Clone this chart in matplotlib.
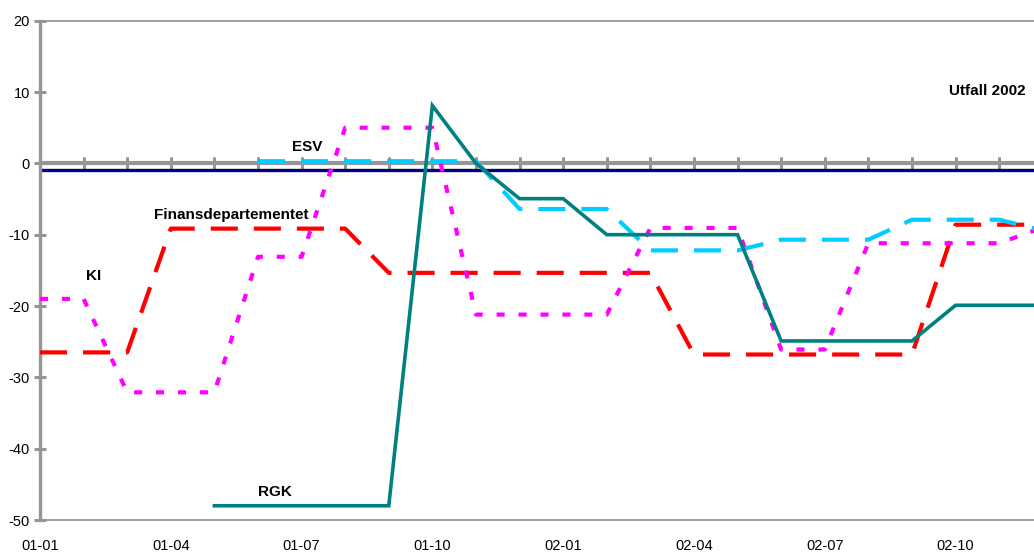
import numpy as np
import matplotlib
matplotlib.use("Agg")
import matplotlib.pyplot as plt

plt.rcParams['font.family'] = ['Liberation Sans', 'DejaVu Sans']
plt.rcParams['lines.scale_dashes'] = False

nan = np.nan
months = ['01-01', '01-02', '01-03', '01-04', '01-05', '01-06', '01-07', '01-08',
          '01-09', '01-10', '01-11', '01-12', '02-01', '02-02', '02-03', '02-04',
          '02-05', '02-06', '02-07', '02-08', '02-09', '02-10', '02-11', '02-12']

finansdep = [-26.5, -26.5, -26.5, -9.15, -9.15, -9.15, -9.15, -9.15,
             -15.35, -15.35, -15.35, -15.35, -15.35, -15.35, -15.35, -26.8,
             -26.8, -26.8, -26.8, -26.8, -26.8, -8.6, -8.6, -8.6]
ki = [-19.0, -19.0, -32.1, -32.1, -32.1, -13.1, -13.1, 5.0,
      5.0, 5.0, -21.2, -21.2, -21.2, -21.2, -9.05, -9.05,
      -9.05, -26.1, -26.1, -11.2, -11.2, -11.2, -11.2, -9.0]
esv = [nan, nan, nan, nan, nan, 0.3, 0.3, 0.3,
       0.3, 0.3, 0.3, -6.4, -6.4, -6.4, -12.2, -12.2,
       -12.2, -10.7, -10.7, -10.7, -7.9, -7.9, -7.9, -9.4]
rgk = [nan, nan, nan, nan, -48.0, -48.0, -48.0, -48.0,
       -48.0, 8.1, 0.0, -4.95, -4.95, -10.0, -10.0, -10.0,
       -10.0, -24.9, -24.9, -24.9, -24.9, -19.9, -19.9, -19.9]
utfall_2002 = -1.0

y_ticks = [-50, -40, -30, -20, -10, 0, 10, 20]
x_tick_labels = ['01-01', '01-04', '01-07', '01-10', '02-01', '02-04', '02-07', '02-10']

GRAY = '#969696'
x = np.arange(len(months))

fig = plt.figure(figsize=(10.34, 5.52), dpi=100)
ax = fig.add_axes([40/1034, 32/552, 994/1034, 499.3/552])

ax.set_xlim(0, 22.8)
ax.set_ylim(-50, 20)

# zero axis line with month tick marks
ax.axhline(0, color=GRAY, lw=3, zorder=1.5)
sec = ax.secondary_xaxis(50/70)
sec.set_xticks(x)
sec.tick_params(axis='x', which='both', direction='inout', length=9, width=2,
                color=GRAY, labelbottom=False, labeltop=False,
                top=True, bottom=True)
for s in sec.spines.values():
    s.set_visible(False)

ax.axhline(utfall_2002, color='#000080', lw=2.4, zorder=2)

ax.plot(x, finansdep, color='#FF0000', lw=3, dashes=(19.5, 11.5), zorder=3)
ax.plot(x, ki, color='#FF00FF', lw=3, dashes=(5.8, 10), zorder=4)
ax.plot(x, esv, color='#00CCFF', lw=3, dashes=(19.5, 11.5), zorder=5)
ax.plot(x, rgk, color='#008080', lw=2.6, zorder=6, solid_joinstyle='miter')

for s in ['top', 'bottom']:
    ax.spines[s].set_color(GRAY)
    ax.spines[s].set_linewidth(1.3)
ax.spines['right'].set_visible(False)
ax.spines['left'].set_color(GRAY)
ax.spines['left'].set_linewidth(2.4)

ax.set_yticks(y_ticks)
ax.set_yticklabels([str(v) for v in y_ticks])
ax.tick_params(axis='y', direction='inout', length=8.6, width=2.2, color=GRAY,
               labelsize=10.5, pad=3)

ax.set_xticks([months.index(m) for m in x_tick_labels])
ax.set_xticklabels(x_tick_labels)
ax.tick_params(axis='x', length=0, labelsize=10.5, pad=14)

tkw = dict(fontsize=11, fontweight='bold', color='black', zorder=7)
ax.text(22.61, 10.2, 'Utfall 2002', ha='right', va='center', **tkw)
ax.text(6.12, 2.3, 'ESV', ha='center', va='center', **tkw)
ax.text(4.38, -7.3, 'Finansdepartementet', ha='center', va='center', **tkw)
ax.text(1.24, -15.8, 'KI', ha='center', va='center', **tkw)
ax.text(5.39, -46.1, 'RGK', ha='center', va='center', **tkw)

fig.savefig('out.png', dpi=100)
